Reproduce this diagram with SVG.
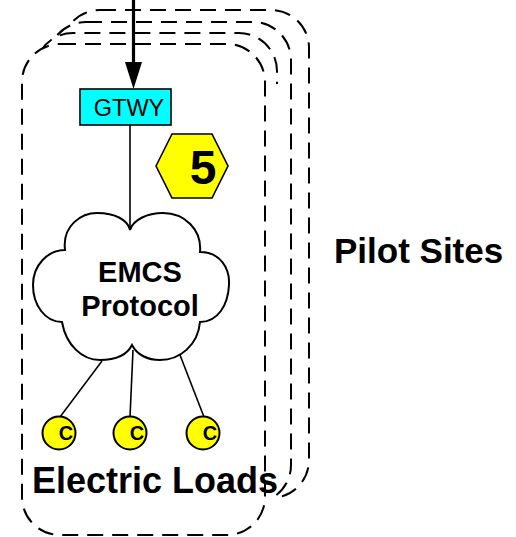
<svg xmlns="http://www.w3.org/2000/svg" width="516" height="537" viewBox="0 0 516 537">
<style>
.site{fill:#fff;stroke:#000;stroke-width:2;stroke-dasharray:16 9}
.sitefill{fill:#fff;stroke:none}
.siteline{fill:none;stroke:#000;stroke-width:2;stroke-dasharray:16 9}
.conn{fill:none;stroke:#000;stroke-width:1.6}
.load{fill:#ffff00;stroke:#000;stroke-width:2}
.lbl{font-family:"Liberation Sans",Arial,sans-serif;font-weight:bold;fill:#000}
</style>
<g id="sites">
<rect class="site" x="62" y="10" width="247" height="488" rx="38" ry="38"/>
<rect class="site" x="48" y="22" width="243" height="481" rx="38" ry="38"/>
<rect class="sitefill" x="35" y="33" width="242" height="490" rx="38" ry="38"/>
<path class="siteline" d="M35,200 V71 A38,38 0 0 1 73,33 H239 A38,38 0 0 1 277,71 V84"/>
<rect class="site" x="22" y="44" width="243" height="491" rx="38" ry="38"/>
</g>
<g id="connectors">
<path d="M133.5,0 V64" stroke="#000" stroke-width="3.2" fill="none"/>
<polygon points="125,62 142,62 133.5,89" fill="#000"/>
<path class="conn" d="M130,125 V230"/>
<path class="conn" d="M102,361 L60,417"/>
<path class="conn" d="M133,350 L130,417"/>
<path class="conn" d="M180,355 L204,417"/>
</g>
<g id="gtwy">
<rect x="80" y="89" width="91" height="36" fill="#00ffff" stroke="#000" stroke-width="1.6"/>
<text x="129" y="116" font-family="Liberation Sans,Arial,sans-serif" font-size="23.5" text-anchor="middle" fill="#000">GTWY</text>
</g>
<g id="badge">
<polygon points="156,166 172,134 212,134 228,166 212,198 172,198" fill="#ffff00" stroke="#000" stroke-width="1.6"/>
<text class="lbl" x="203" y="184" font-size="48" text-anchor="middle">5</text>
</g>
<g id="emcs">
<path d="M65,250 C62,225 82,213 97,213 C115,213 128,220 130,230 C133,220 147,213 163,213 C185,213 202,230 200,252 C220,252 230,268 229,285 C228,305 218,322 200,322 C198,345 180,360 160,360 C148,360 137,355 132,345 C127,355 115,360 100,360 C82,360 66,345 62,322 C45,322 33,305 33,285 C33,265 48,250 65,250 Z" fill="#fff" stroke="#000" stroke-width="2"/>
<text class="lbl" x="140" y="282" font-size="29" text-anchor="middle">EMCS</text>
<text class="lbl" x="140" y="316" font-size="29" text-anchor="middle">Protocol</text>
</g>
<g id="load1">
<circle class="load" cx="59" cy="433" r="16.5"/>
<text class="lbl" x="66" y="440" font-size="20" text-anchor="middle">C</text>
</g>
<g id="load2">
<circle class="load" cx="130" cy="433" r="16.5"/>
<text class="lbl" x="137" y="440" font-size="20" text-anchor="middle">C</text>
</g>
<g id="load3">
<circle class="load" cx="203" cy="433" r="16.5"/>
<text class="lbl" x="210" y="440" font-size="20" text-anchor="middle">C</text>
</g>
<g id="labels">
<text class="lbl" x="32" y="493" font-size="36">Electric Loads</text>
<text class="lbl" x="334" y="263" font-size="35">Pilot Sites</text>
</g>
</svg>
